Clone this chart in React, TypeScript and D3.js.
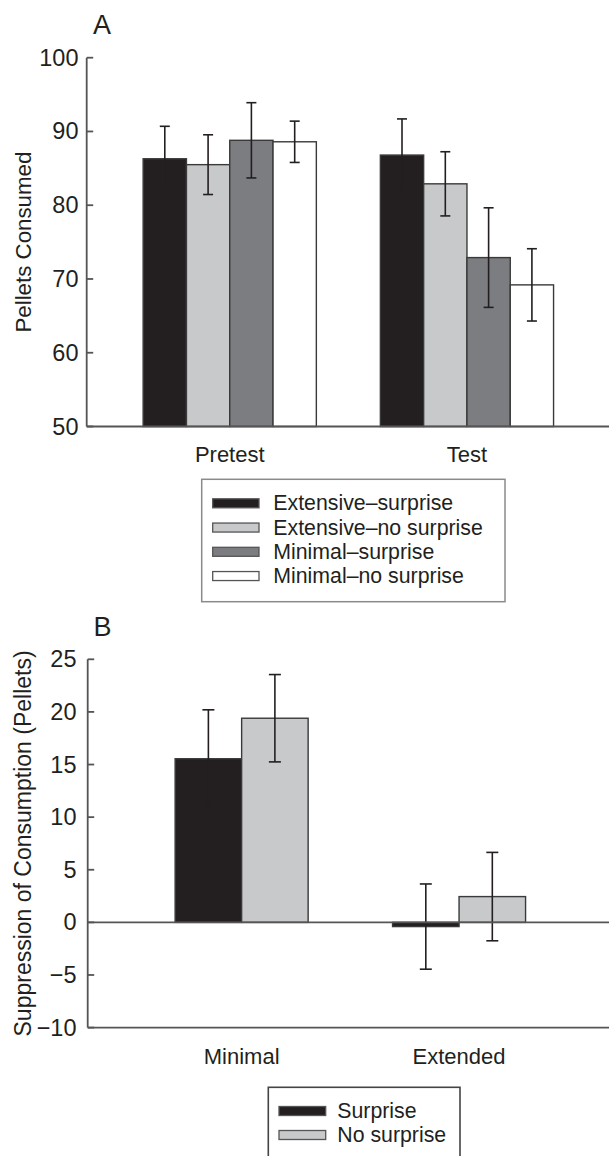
import React from "react";
import * as d3 from "d3";

const groupsA = ["Pretest", "Test"];
const seriesA = ["Extensive–surprise", "Extensive–no surprise", "Minimal–surprise", "Minimal–no surprise"];
const meansPretest = [86.3, 85.5, 88.8, 88.6];
const errPretest = [4.4, 4.05, 5.1, 2.8];
const meansTest = [86.8, 82.9, 72.9, 69.2];
const errTest = [4.9, 4.35, 6.75, 4.9];
const ticksA = [50, 60, 70, 80, 90, 100];

const groupsB = ["Minimal", "Extended"];
const seriesB = ["Surprise", "No surprise"];
const meansSurprise = [15.55, -0.4];
const errSurprise = [4.65, 4.05];
const meansNoSurprise = [19.4, 2.45];
const errNoSurprise = [4.15, 4.2];
const ticksB = [-10, -5, 0, 5, 10, 15, 20, 25];

const colorsA = ["#231f20", "#c8c9cb", "#7c7d81", "#ffffff"];
const colorsB = ["#231f20", "#c8c9cb"];

const FONT = "'Liberation Sans', Arial, Helvetica, sans-serif";
const AXIS = "#555";
const TXT = "#231f20";
const ERR = "#231f20";

function fmt(v: number) {
  return v < 0 ? "\u2212" + Math.abs(v) : String(v);
}

export default function App() {
  const W = 609, H = 1156;

  // Panel A
  const axA = 86.7;
  const yA = d3.scaleLinear().domain([50, 100]).range([426.5, 57.7]);
  const xA = d3.scalePoint<string>().domain(groupsA).range([axA, 610]).padding(0.603);
  const subA = d3.scaleBand<string>().domain(seriesA).range([-86.6, 86.6]);
  const dataA = groupsA.map((g, gi) => ({
    g,
    vals: seriesA.map((s, si) => ({
      s,
      si,
      m: gi === 0 ? meansPretest[si] : meansTest[si],
      e: gi === 0 ? errPretest[si] : errTest[si],
    })),
  }));

  // Panel B
  const axB = 87.7;
  const yB = d3.scaleLinear().domain([-10, 25]).range([1027.6, 659.3]);
  const xB = d3.scalePoint<string>().domain(groupsB).range([axB, 613]).padding(0.708);
  const subB = d3.scaleBand<string>().domain(seriesB).range([-66.5, 66.5]);
  const dataB = groupsB.map((g, gi) => ({
    g,
    vals: seriesB.map((s, si) => ({
      s,
      si,
      m: si === 0 ? meansSurprise[gi] : meansNoSurprise[gi],
      e: si === 0 ? errSurprise[gi] : errNoSurprise[gi],
    })),
  }));

  return (
    <svg
      width={W}
      height={H}
      viewBox={`0 0 ${W} ${H}`}
      style={{ position: "absolute", left: 0, top: 0, background: "#fff" }}
      fontFamily={FONT}
    >
      <rect x={0} y={0} width={W} height={H} fill="#fff" />
      {/* ===== Panel A ===== */}
      <text x={93} y={33.5} fontSize={27} fill={TXT}>A</text>
      <text
        transform={`translate(31,${(yA(50) + yA(100)) / 2}) rotate(-90)`}
        textAnchor="middle"
        fontSize={22.3}
        fill={TXT}
      >
        Pellets Consumed
      </text>
      {ticksA.map((t) => (
        <g key={t}>
          <line x1={axA} x2={axA + 6.5} y1={yA(t)} y2={yA(t)} stroke={AXIS} strokeWidth={1.8} />
          <text x={78.5} y={yA(t)} textAnchor="end" dominantBaseline="central" fontSize={23.5} fill={TXT}>
            {fmt(t)}
          </text>
        </g>
      ))}
      {dataA.map((grp) => (
        <g key={grp.g}>
          {grp.vals.map((v) => {
            const x0 = (xA(grp.g) as number) + (subA(v.s) as number);
            const bw = subA.bandwidth();
            return (
              <rect
                key={v.s}
                x={x0}
                y={yA(v.m)}
                width={bw}
                height={yA(50) - yA(v.m)}
                fill={colorsA[v.si]}
                stroke="#3a3a3a"
                strokeWidth={1.4}
              />
            );
          })}
          {grp.vals.map((v) => {
            const cx = (xA(grp.g) as number) + (subA(v.s) as number) + subA.bandwidth() / 2;
            return (
              <g key={v.s + "e"} stroke={ERR} strokeWidth={1.6}>
                <line x1={cx} x2={cx} y1={yA(v.m + v.e)} y2={yA(v.m - v.e)} />
                <line x1={cx - 5} x2={cx + 5} y1={yA(v.m + v.e)} y2={yA(v.m + v.e)} />
                <line x1={cx - 5} x2={cx + 5} y1={yA(v.m - v.e)} y2={yA(v.m - v.e)} />
              </g>
            );
          })}
          <text x={xA(grp.g)} y={461.5} textAnchor="middle" fontSize={22} fill={TXT}>
            {grp.g}
          </text>
        </g>
      ))}
      <line x1={axA} x2={axA} y1={yA(100)} y2={yA(50)} stroke={AXIS} strokeWidth={1.8} />
      <line x1={axA} x2={W} y1={yA(50)} y2={yA(50)} stroke={AXIS} strokeWidth={1.8} />

      {/* Legend A */}
      <rect x={201.7} y={479.3} width={303.3} height={122.4} fill="#fff" stroke="#8a8a8a" strokeWidth={1.5} />
      {seriesA.map((s, i) => {
        const cy = 503.3 + i * 24.25;
        return (
          <g key={s}>
            <rect x={212.7} y={cy - 4.5} width={46.3} height={9} fill={colorsA[i]} stroke="#555" strokeWidth={1.3} />
            <text x={273.3} y={cy} dominantBaseline="central" fontSize={21.3} fill={TXT}>
              {s}
            </text>
          </g>
        );
      })}

      {/* ===== Panel B ===== */}
      <text x={93.5} y={636} fontSize={27} fill={TXT}>B</text>
      <text
        transform={`translate(31,${(yB(-10) + yB(25)) / 2}) rotate(-90)`}
        textAnchor="middle"
        fontSize={23}
        fill={TXT}
      >
        Suppression of Consumption (Pellets)
      </text>
      {ticksB.map((t) => (
        <g key={t}>
          <line x1={axB} x2={axB + 6.5} y1={yB(t)} y2={yB(t)} stroke={AXIS} strokeWidth={1.8} />
          <text x={76.5} y={yB(t)} textAnchor="end" dominantBaseline="central" fontSize={23.5} fill={TXT}>
            {fmt(t)}
          </text>
        </g>
      ))}
      {dataB.map((grp) => (
        <g key={grp.g}>
          {grp.vals.map((v) => {
            const x0 = (xB(grp.g) as number) + (subB(v.s) as number);
            const bw = subB.bandwidth();
            const y0 = Math.min(yB(v.m), yB(0));
            const h = Math.abs(yB(v.m) - yB(0));
            return (
              <rect
                key={v.s}
                x={x0}
                y={y0}
                width={bw}
                height={h}
                fill={colorsB[v.si]}
                stroke="#3a3a3a"
                strokeWidth={1.4}
              />
            );
          })}
          {grp.vals.map((v) => {
            const cx = (xB(grp.g) as number) + (subB(v.s) as number) + subB.bandwidth() / 2;
            return (
              <g key={v.s + "e"} stroke={ERR} strokeWidth={1.6}>
                <line x1={cx} x2={cx} y1={yB(v.m + v.e)} y2={yB(v.m - v.e)} />
                <line x1={cx - 6} x2={cx + 6} y1={yB(v.m + v.e)} y2={yB(v.m + v.e)} />
                <line x1={cx - 6} x2={cx + 6} y1={yB(v.m - v.e)} y2={yB(v.m - v.e)} />
              </g>
            );
          })}
          <text x={xB(grp.g)} y={1064} textAnchor="middle" fontSize={22} fill={TXT}>
            {grp.g}
          </text>
        </g>
      ))}
      <line x1={axB} x2={W} y1={yB(0)} y2={yB(0)} stroke={AXIS} strokeWidth={1.8} />
      <line x1={axB} x2={axB} y1={yB(25)} y2={yB(-10)} stroke={AXIS} strokeWidth={1.8} />
      <line x1={axB} x2={W} y1={yB(-10)} y2={yB(-10)} stroke={AXIS} strokeWidth={1.8} />

      {/* Legend B */}
      <rect x={268.3} y={1087.3} width={191.7} height={80} fill="#fff" stroke="#444" strokeWidth={1.6} />
      {seriesB.map((s, i) => {
        const cy = 1111 + i * 24;
        return (
          <g key={s}>
            <rect x={279} y={cy - 4.5} width={46.7} height={9} fill={colorsB[i]} stroke="#555" strokeWidth={1.3} />
            <text x={337.3} y={cy} dominantBaseline="central" fontSize={21.3} fill={TXT}>
              {s}
            </text>
          </g>
        );
      })}
    </svg>
  );
}
